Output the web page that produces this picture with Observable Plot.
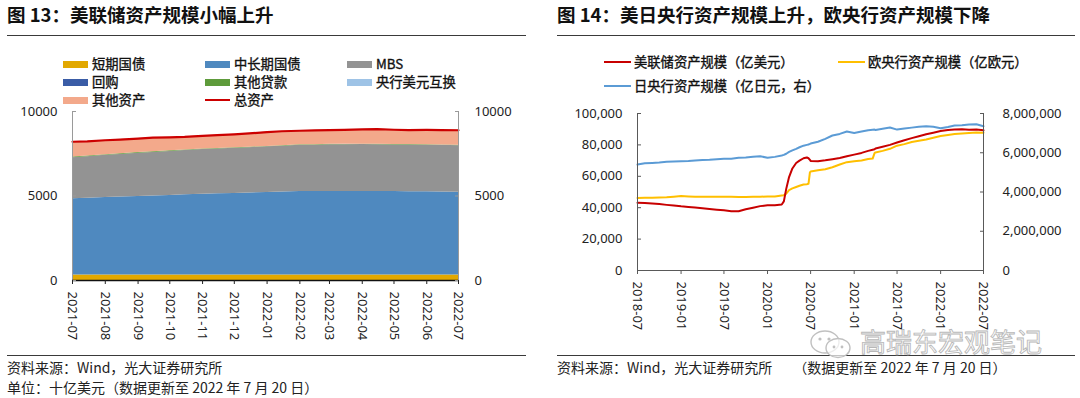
<!DOCTYPE html>
<html><head><meta charset="utf-8">
<script src="https://cdn.jsdelivr.net/npm/d3@7"></script>
<script src="https://cdn.jsdelivr.net/npm/@observablehq/plot@0.6"></script>
<style>
body{margin:0;width:1080px;height:398px;position:relative;background:#fff;overflow:hidden;font-family:"Noto Sans","Noto Sans CJK SC",sans-serif}
.abs{position:absolute;white-space:nowrap;line-height:1}
.title{font-family:"Noto Sans CJK SC",sans-serif;font-weight:bold;font-size:18.5px;color:#111}
.rule{position:absolute;height:0;border-top:1.6px solid #3a3a3a}
.leg{font-family:"Noto Sans CJK SC",sans-serif;font-size:13.3px;color:#111;-webkit-text-stroke:0.35px #111}
.note{font-family:"Noto Sans CJK SC",sans-serif;font-size:14px;color:#222}
.sw{position:absolute}
svg.plot{position:absolute;overflow:visible}
.wm{font-family:"Noto Sans CJK SC",sans-serif;font-size:26px;color:rgba(255,255,255,0.5);-webkit-text-stroke:0.9px #b8b8b8}
#wmicon{position:absolute;left:808px;top:329px}
</style></head><body>
<div id="root"></div>
<svg id="wmicon" width="48" height="32" viewBox="0 0 48 32">
  <ellipse cx="17" cy="13" rx="14" ry="11" fill="rgba(255,255,255,0.6)" stroke="#c0c0c0" stroke-width="1.4"/>
  <ellipse cx="30" cy="19" rx="12" ry="9.5" fill="rgba(255,255,255,0.7)" stroke="#c0c0c0" stroke-width="1.4"/>
  <circle cx="12" cy="10" r="1.6" fill="#c0c0c0"/><circle cx="21" cy="10" r="1.6" fill="#c0c0c0"/>
  <circle cx="26" cy="18" r="1.4" fill="#c0c0c0"/><circle cx="34" cy="18" r="1.4" fill="#c0c0c0"/>
</svg>
<script>
// ---------------- Figure 13 data (十亿美元) ----------------
const fedDates = ["2021-07-01","2021-07-15","2021-08-01","2021-08-15","2021-09-01","2021-09-15","2021-10-01","2021-10-15","2021-11-01","2021-11-15","2021-12-01","2021-12-15","2022-01-01","2022-01-15","2022-02-01","2022-02-15","2022-03-01","2022-03-15","2022-04-01","2022-04-15","2022-05-01","2022-05-15","2022-06-01","2022-06-15","2022-07-01"];
const tBills      = [326,326,326,326,326,326,326,326,326,326,326,326,326,326,326,326,326,326,326,326,326,326,326,326,326];
const notesBonds  = [4505,4544,4584,4614,4644,4674,4704,4744,4782,4804,4822,4854,4881,4914,4941,4944,4944,4944,4944,4939,4934,4929,4921,4914,4901];
const mbsHold     = [2436,2450,2495,2520,2560,2580,2610,2620,2640,2650,2680,2680,2700,2700,2740,2740,2760,2760,2770,2770,2760,2770,2760,2760,2750];
const repoHold    = [0,0,0,0,0,0,0,0,0,0,0,0,0,0,0,0,0,0,0,0,0,0,0,0,0];
const otherLoans  = [45,45,40,40,38,36,35,34,32,30,30,29,28,27,26,25,25,24,24,23,22,22,21,21,20];
const fxSwaps     = [1,1,1,1,1,1,1,1,1,1,1,1,1,1,1,1,1,1,1,1,1,1,1,1,1];
const otherAssets = [897,864,854,839,831,833,794,775,779,789,791,810,844,862,826,844,844,855,875,901,877,852,881,878,892];
const totalAssets = [8210,8230,8300,8340,8400,8450,8470,8500,8560,8600,8650,8700,8780,8830,8860,8880,8900,8910,8940,8960,8920,8900,8910,8900,8890];
const fedSeries = ["短期国债","中长期国债","MBS","回购","其他贷款","央行美元互换","其他资产"];
const fedLayers = [tBills, notesBonds, mbsHold, repoHold, otherLoans, fxSwaps, otherAssets];
const fedColors = ["#E2A800","#4F89BF","#939393","#3A5CA6","#5E9B3B","#9EC3E6","#F3A98B"];
const totalName = "总资产";
const totalColor = "#CC0000";
const fedYTicks = [0, 5000, 10000];
const fedXTicks = ["2021-07","2021-08","2021-09","2021-10","2021-11","2021-12","2022-01","2022-02","2022-03","2022-04","2022-05","2022-06","2022-07"];

// ---------------- Figure 14 data ----------------
const cbDates = ["2018-07-01","2018-08-01","2018-09-01","2018-10-01","2018-11-01","2018-12-01","2019-01-01","2019-02-01","2019-03-01","2019-04-01","2019-05-01","2019-06-01","2019-07-01","2019-08-01","2019-09-01","2019-10-01","2019-11-01","2019-12-01","2020-01-01","2020-02-01","2020-03-01","2020-03-10","2020-03-20","2020-04-01","2020-04-15","2020-05-01","2020-05-15","2020-06-01","2020-06-15","2020-06-22","2020-06-28","2020-07-01","2020-08-01","2020-09-01","2020-10-01","2020-11-01","2020-12-01","2021-01-01","2021-02-01","2021-03-01","2021-03-20","2021-03-28","2021-04-01","2021-05-01","2021-06-01","2021-07-01","2021-08-01","2021-09-01","2021-10-01","2021-11-01","2021-12-01","2022-01-01","2022-02-01","2022-03-01","2022-04-01","2022-05-01","2022-06-01","2022-07-01"];
const fedAssets = [43200,43000,42700,42300,41800,41400,40850,40500,40100,39600,39200,38700,38300,37800,37700,39000,40000,41000,41500,41600,42000,44000,52000,59500,65000,68500,70000,71500,72000,71500,70500,69800,69600,70200,70900,71700,72800,73800,74900,76200,76900,77200,77700,78800,80000,81500,83000,84300,85500,86800,87800,88800,89500,89800,90000,89700,89800,89300];
const ecbAssets = [46200,46300,46400,46500,46700,47000,47400,47200,47000,47000,47000,47000,47000,46900,46800,46800,46900,47000,47200,47200,47800,48000,49000,51200,52300,53200,54000,54800,55000,55200,62500,63000,63800,64500,65800,67500,69000,69600,70100,71000,71300,74800,75200,76200,77500,79500,80500,81800,82600,83400,84600,85700,86300,86900,87300,87600,87900,87800];
const bojAssets = [5400000,5460000,5480000,5500000,5540000,5560000,5570000,5580000,5600000,5630000,5640000,5670000,5690000,5700000,5740000,5760000,5790000,5820000,5750000,5790000,5860000,5890000,5950000,6040000,6120000,6200000,6280000,6360000,6400000,6420000,6450000,6470000,6560000,6710000,6880000,6960000,7080000,7010000,7080000,7150000,7170000,7180000,7160000,7220000,7290000,7180000,7230000,7280000,7320000,7350000,7320000,7250000,7310000,7390000,7400000,7440000,7450000,7350000];
const cbNames = ["美联储资产规模（亿美元）","欧央行资产规模（亿欧元）","日央行资产规模（亿日元，右）"];
const cbColors = ["#C80000","#FFBF00","#5B9BD5"];
const cbLeftTicks = [0,20000,40000,60000,80000,100000];
const cbRightTicks = [0,2000000,4000000,6000000,8000000];
const cbXTicks = ["2018-07","2019-01","2019-07","2020-01","2020-07","2021-01","2021-07","2022-01","2022-07"];

const titles = ["图 13：美联储资产规模小幅上升","图 14：美日央行资产规模上升，欧央行资产规模下降"];
const sourceLeft = ["资料来源：Wind，光大证券研究所","单位：十亿美元（数据更新至 2022 年 7 月 20 日）"];
const sourceRight = "资料来源：Wind，光大证券研究所　　（数据更新至 2022 年 7 月 20 日）";
const watermark = "高瑞东宏观笔记";

// ---------------- helpers ----------------
const root = document.getElementById("root");
const pDay = d3.utcParse("%Y-%m-%d"), pMon = d3.utcParse("%Y-%m"), fMon = d3.utcFormat("%Y-%m");
function add(cls, text, left, top, extra) {
  const e = document.createElement("div");
  e.className = "abs " + cls; e.textContent = text;
  e.style.left = left + "px"; e.style.top = top + "px";
  if (extra) Object.assign(e.style, extra);
  root.appendChild(e); return e;
}
function rule(left, top, width) {
  const e = document.createElement("div"); e.className = "rule";
  Object.assign(e.style, {left: left + "px", top: top + "px", width: width + "px"});
  root.appendChild(e);
}
function swatch(left, cy, w, h, color) {
  const e = document.createElement("div"); e.className = "sw";
  Object.assign(e.style, {left: left + "px", top: (cy - h / 2) + "px", width: w + "px", height: h + "px", background: color});
  root.appendChild(e);
}
const font = '"Noto Sans","Noto Sans CJK SC",sans-serif';

// ---------------- text / frame ----------------
add("title", titles[0], 7, 5);
add("title", titles[1], 557, 5);
rule(7, 35, 519);
rule(557, 35, 518);
rule(7, 355, 519);
rule(557, 355, 518);
add("note", sourceLeft[0], 7, 360);
add("note", sourceLeft[1], 7, 380);
add("note", sourceRight, 557, 360);

// left legend
const legCols = [63, 205, 347], legRows = [64.5, 82.5, 100];
const legItems = fedSeries.map((s, i) => ({name: s, color: fedColors[i], line: false}))
  .concat([{name: totalName, color: totalColor, line: true}]);
legItems.forEach((it, i) => {
  const x = legCols[i % 3], y = legRows[Math.floor(i / 3)];
  swatch(x, y, 25, it.line ? 2.5 : 7, it.color);
  add("leg", it.name, x + 29, y - 7.5);
});
// right legend
const rLeg = [[604, 62], [838, 62], [604, 86]];
cbNames.forEach((n, i) => {
  swatch(rLeg[i][0], rLeg[i][1], 27, 2.5, cbColors[i]);
  add("leg", n, rLeg[i][0] + 30, rLeg[i][1] - 7.5);
});

// ---------------- Figure 13 plot ----------------
const fedRows = [];
fedLayers.forEach((arr, i) => arr.forEach((v, j) => fedRows.push({date: pDay(fedDates[j]), series: fedSeries[i], value: v})));
const totalRows = totalAssets.map((v, j) => ({date: pDay(fedDates[j]), value: v}));
const fx0 = pMon(fedXTicks[0]), fx1 = pMon(fedXTicks[fedXTicks.length - 1]);
const fedTickDates = fedXTicks.map(pMon);
const p1 = Plot.plot({
  width: 540, height: 260,
  marginLeft: 72, marginRight: 82, marginTop: 11, marginBottom: 80,
  style: {fontFamily: font, fontSize: "13px", color: "#222", background: "transparent"},
  x: {type: "utc", domain: [fx0, fx1], label: null},
  y: {domain: [fedYTicks[0], fedYTicks[fedYTicks.length - 1]], label: null},
  color: {domain: fedSeries, range: fedColors},
  marks: [
    Plot.areaY(fedRows, {x: "date", y: "value", fill: "series", order: fedSeries}),
    Plot.lineY(totalRows, {x: "date", y: "value", stroke: totalColor, strokeWidth: 2.2}),
    Plot.ruleX([fx0, fx1], {stroke: "#9a9a9a", strokeWidth: 1}),
    Plot.ruleY([fedYTicks[0]], {stroke: "#111", strokeWidth: 1.6}),
    Plot.axisY({anchor: "left", ticks: fedYTicks, tickSize: 0, tickPadding: 15, tickFormat: d => String(d), fill: "#222"}),
    Plot.axisY({anchor: "left", ticks: fedYTicks, tickSize: 4, dx: 4, tickFormat: () => "", stroke: "#9a9a9a"}),
    Plot.axisY({anchor: "right", ticks: fedYTicks, tickSize: 0, tickPadding: 16, tickFormat: d => String(d), fill: "#222"}),
    Plot.axisY({anchor: "right", ticks: fedYTicks, tickSize: 4, dx: -4, tickFormat: () => "", stroke: "#9a9a9a"}),
    Plot.axisX({ticks: fedTickDates, tickFormat: fMon, tickRotate: 90, tickSize: 4, tickPadding: 7, stroke: "#222", fill: "#222"})
  ]
});
p1.classList.add("plot");
Object.assign(p1.style, {left: "0px", top: "100px"});
root.appendChild(p1);

// ---------------- Figure 14 plot ----------------
const ratio = cbRightTicks[cbRightTicks.length - 1] / cbLeftTicks[cbLeftTicks.length - 1];
const cbRows = [];
[fedAssets, ecbAssets].forEach((arr, i) => arr.forEach((v, j) => cbRows.push({date: pDay(cbDates[j]), name: cbNames[i], v})));
const bojRows = bojAssets.map((v, j) => ({date: pDay(cbDates[j]), name: cbNames[2], v}));
const cx0 = pMon(cbXTicks[0]), cx1 = pMon(cbXTicks[cbXTicks.length - 1]);
const fmt = d3.format(",");
const axisCol = "#595959";
const p2 = Plot.plot({
  width: 540, height: 260,
  marginLeft: 97, marginRight: 97, marginTop: 13, marginBottom: 90,
  style: {fontFamily: font, fontSize: "13px", color: "#222", background: "transparent"},
  x: {type: "utc", domain: [cx0, cx1], label: null},
  y: {domain: [cbLeftTicks[0], cbLeftTicks[cbLeftTicks.length - 1]], label: null},
  color: {domain: cbNames, range: cbColors},
  marks: [
    Plot.lineY(bojRows, {x: "date", y: d => d.v / ratio, stroke: "name", strokeWidth: 2}),
    Plot.lineY(cbRows.filter(d => d.name === cbNames[1]), {x: "date", y: "v", stroke: "name", strokeWidth: 2}),
    Plot.lineY(cbRows.filter(d => d.name === cbNames[0]), {x: "date", y: "v", stroke: "name", strokeWidth: 2}),
    Plot.ruleX([cx0, cx1], {stroke: axisCol, strokeWidth: 1}),
    Plot.ruleY([cbLeftTicks[0]], {stroke: axisCol, strokeWidth: 1}),
    Plot.axisY({anchor: "left", ticks: cbLeftTicks, tickSize: 0, tickPadding: 15, tickFormat: fmt, fill: "#222"}),
    Plot.axisY({anchor: "left", ticks: cbLeftTicks, tickSize: 4, dx: 4, tickFormat: () => "", stroke: axisCol}),
    Plot.axisY({anchor: "right", ticks: cbRightTicks.map(v => v / ratio), tickSize: 0, tickPadding: 19, tickFormat: d => fmt(d * ratio), fill: "#222"}),
    Plot.axisY({anchor: "right", ticks: cbRightTicks.map(v => v / ratio), tickSize: 4, dx: -4, tickFormat: () => "", stroke: axisCol}),
    Plot.axisX({ticks: cbXTicks.map(pMon), tickFormat: fMon, tickRotate: 90, tickSize: 4, tickPadding: 7, stroke: axisCol, fill: "#222"})
  ]
});
p2.classList.add("plot");
Object.assign(p2.style, {left: "540px", top: "100px"});
root.appendChild(p2);

// watermark
add("wm", watermark, 860, 328);
</script>
</body></html>
